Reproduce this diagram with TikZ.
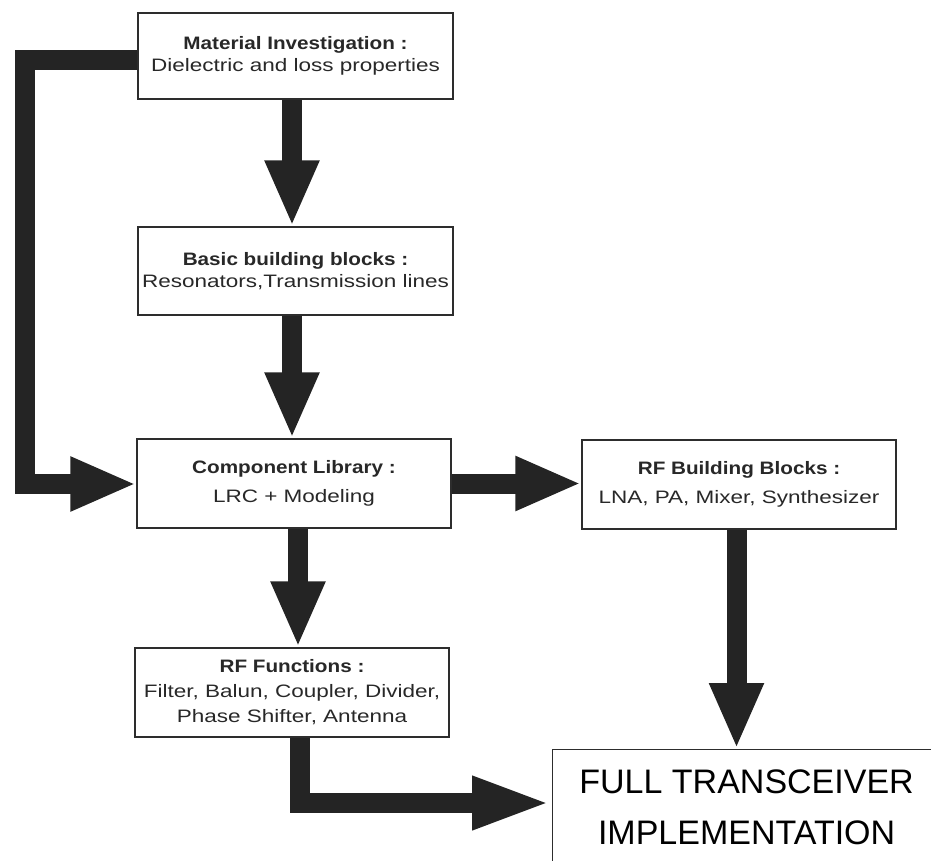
\documentclass[tikz,border=0pt]{standalone}
\usepackage{fontspec}
\setmainfont{Liberation Sans}
\newfontfamily\bodyfont[FakeStretch=1.25]{Liberation Sans}
\newfontfamily\headfont[FakeStretch=1.15]{Liberation Sans}
\usetikzlibrary{arrows.meta}
\definecolor{arrowgray}{RGB}{36,36,36}
\definecolor{boxline}{RGB}{45,45,45}
\definecolor{bodytext}{RGB}{40,40,40}
\newcommand{\hd}[1]{{\headfont\bfseries #1}}
\begin{document}
\begin{tikzpicture}[x=1pt,y=-1pt,
  box/.style={draw=boxline, line width=1.2pt, fill=white,
    minimum width=315pt, minimum height=88pt, inner sep=0pt,
    align=center, text=bodytext,
    font=\bodyfont\fontsize{18}{22}\selectfont},
  flow/.style={draw=arrowgray, line width=20pt, line join=miter,
    -{Triangle[width=50pt,length=66pt]}}]
\useasboundingbox (0,0) rectangle (931,861);
\clip (0,0) rectangle (931,861);

% blocks
\node[box, minimum height=86pt] (mat) at (295.5,56)
  {\hd{Material Investigation :}\\ Dielectric and loss properties};
\node[box] (bb) at (295.5,271)
  {\hd{Basic building blocks :}\\ Resonators,Transmission lines};
\node[box, minimum width=314pt, minimum height=89pt] (lib) at (294,483.5)
  {\hd{Component Library :}\\[7pt] LRC + Modeling};
\node[box, minimum width=314pt, minimum height=89pt,
  font=\bodyfont\fontsize{18}{25}\selectfont] (fun) at (292,692.5)
  {\hd{RF Functions :}\\ Filter, Balun, Coupler, Divider,\\ Phase Shifter, Antenna};
\node[box, minimum width=314pt, minimum height=89pt] (rfb) at (739,484.5)
  {\hd{RF Building Blocks :}\\[7pt] LNA, PA, Mixer, Synthesizer};
\node[draw=boxline, line width=1.2pt, fill=white, anchor=north west,
  minimum width=388pt, minimum height=116pt, inner sep=0pt, align=center,
  font=\fontsize{34}{51}\selectfont] (full) at (552,749)
  {FULL TRANSCEIVER\\ IMPLEMENTATION};

% routing points
\coordinate (loopA) at (25,60);
\coordinate (loopB) at (25,484);
\coordinate (elbow) at (299.5,803);

% connectors
\draw[flow] ([xshift=-3.5pt]mat.south) -- ([xshift=-3.5pt]bb.north);
\draw[flow] ([xshift=-3.5pt]bb.south) -- ([xshift=-2pt]lib.north);
\draw[flow] ([xshift=4pt]lib.south) -- ([xshift=6pt]fun.north);
\draw[flow] (mat.west |- loopA) -- (loopA) -- (loopB) -- (lib.west |- loopB);
\draw[flow] (lib.east) -- (lib.east -| rfb.west);
\draw[flow] ([xshift=-2.5pt]rfb.south) -- ([xshift=-2.5pt]rfb.south |- full.north);
\draw[flow, -{Triangle[width=48pt,length=80pt]}]
  (fun.south -| elbow) -- (elbow) -- (full.west |- elbow);
\end{tikzpicture}
\end{document}
